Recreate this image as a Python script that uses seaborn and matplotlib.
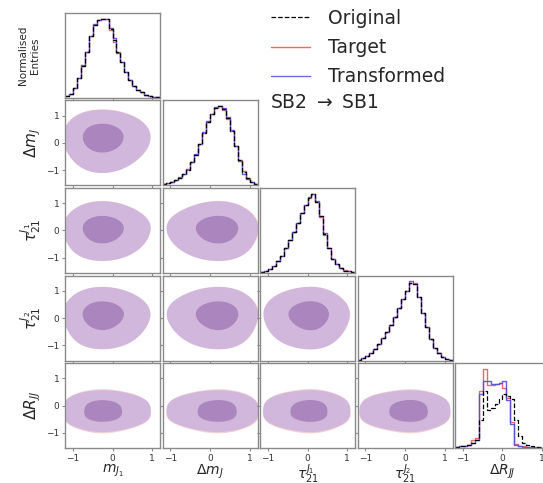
import numpy as np
import pandas as pd
import matplotlib
matplotlib.use("Agg")
import matplotlib.pyplot as plt
from matplotlib.colors import ListedColormap
from matplotlib.lines import Line2D
import seaborn as sns

# ==========================================
# Data (normalised bin heights)
# ==========================================
bin_lo, bin_hi, n_bins = -1.2, 1.2, 24

features = ["mj1", "dmj", "tau1", "tau2", "drjj"]
feature_labels = [r"$m_{J_1}$", r"$\Delta m_J$", r"$\tau_{21}^{J_1}$",
                  r"$\tau_{21}^{J_2}$", r"$\Delta R_{JJ}$"]
tick_values = [-1, 0, 1]

mj1_target = [0.02, 0.05, 0.12, 0.25, 0.40, 0.58, 0.78, 0.92, 0.98, 0.99, 1.00, 0.86,
              0.70, 0.58, 0.45, 0.33, 0.23, 0.15, 0.10, 0.07, 0.04, 0.02, 0.01, 0.01]
mj1_transformed = [0.02, 0.05, 0.12, 0.25, 0.41, 0.58, 0.78, 0.93, 0.98, 1.00, 0.99, 0.88,
                   0.75, 0.57, 0.45, 0.33, 0.23, 0.15, 0.10, 0.07, 0.04, 0.02, 0.01, 0.01]
mj1_original = [0.02, 0.05, 0.12, 0.25, 0.40, 0.58, 0.78, 0.92, 0.98, 0.99, 1.00, 0.87,
                0.73, 0.58, 0.45, 0.33, 0.23, 0.15, 0.10, 0.07, 0.04, 0.02, 0.01, 0.01]

dmj_target = [0.02, 0.03, 0.05, 0.07, 0.10, 0.15, 0.20, 0.29, 0.39, 0.52, 0.66, 0.80,
              0.90, 0.98, 1.00, 0.95, 0.84, 0.68, 0.50, 0.32, 0.18, 0.10, 0.04, 0.02]
dmj_transformed = [0.02, 0.03, 0.05, 0.07, 0.11, 0.15, 0.21, 0.29, 0.40, 0.52, 0.67, 0.81,
                   0.90, 0.99, 1.00, 0.97, 0.86, 0.70, 0.50, 0.31, 0.15, 0.08, 0.04, 0.02]
dmj_original = [0.02, 0.03, 0.05, 0.07, 0.10, 0.15, 0.20, 0.29, 0.39, 0.52, 0.66, 0.80,
                0.90, 0.98, 1.00, 0.96, 0.85, 0.69, 0.50, 0.32, 0.17, 0.09, 0.04, 0.02]

tau1_target = [0.01, 0.02, 0.05, 0.09, 0.15, 0.22, 0.31, 0.41, 0.52, 0.63, 0.75, 0.86,
               0.95, 0.99, 0.90, 0.71, 0.48, 0.31, 0.18, 0.11, 0.06, 0.04, 0.02, 0.01]
tau1_transformed = [0.01, 0.02, 0.05, 0.09, 0.15, 0.22, 0.31, 0.41, 0.52, 0.63, 0.75, 0.86,
                    0.96, 1.00, 0.91, 0.72, 0.50, 0.31, 0.18, 0.11, 0.06, 0.03, 0.02, 0.01]
tau1_original = [0.01, 0.02, 0.05, 0.09, 0.15, 0.22, 0.31, 0.41, 0.52, 0.63, 0.75, 0.86,
                 0.95, 1.00, 0.90, 0.72, 0.49, 0.31, 0.18, 0.11, 0.06, 0.03, 0.02, 0.01]

tau2_target = [0.01, 0.03, 0.06, 0.10, 0.15, 0.21, 0.28, 0.36, 0.45, 0.55, 0.66, 0.77,
               0.88, 0.97, 0.97, 0.80, 0.60, 0.42, 0.27, 0.16, 0.09, 0.05, 0.02, 0.01]
tau2_transformed = [0.01, 0.03, 0.06, 0.10, 0.15, 0.21, 0.28, 0.36, 0.45, 0.55, 0.66, 0.77,
                    0.88, 1.00, 0.96, 0.80, 0.60, 0.42, 0.27, 0.16, 0.09, 0.05, 0.02, 0.01]
tau2_original = [0.01, 0.03, 0.06, 0.10, 0.15, 0.21, 0.28, 0.36, 0.45, 0.55, 0.66, 0.77,
                 0.88, 0.98, 0.96, 0.80, 0.60, 0.42, 0.27, 0.16, 0.09, 0.05, 0.02, 0.01]

drjj_target = [0.01, 0.02, 0.03, 0.04, 0.10, 0.12, 0.72, 1.00, 0.79, 0.79, 0.80, 0.82,
               0.75, 0.63, 0.33, 0.05, 0.03, 0.02, 0.01, 0.01, 0.01, 0.00, 0.00, 0.00]
drjj_transformed = [0.01, 0.02, 0.02, 0.04, 0.06, 0.10, 0.68, 0.84, 0.84, 0.80, 0.80, 0.82,
                    0.84, 0.60, 0.30, 0.04, 0.02, 0.01, 0.01, 0.01, 0.00, 0.00, 0.00, 0.00]
drjj_original = [0.01, 0.02, 0.03, 0.04, 0.06, 0.10, 0.35, 0.72, 0.48, 0.50, 0.55, 0.62,
                 0.68, 0.66, 0.62, 0.35, 0.15, 0.06, 0.04, 0.02, 0.01, 0.01, 0.00, 0.00]

target = [mj1_target, dmj_target, tau1_target, tau2_target, drjj_target]
transformed = [mj1_transformed, dmj_transformed, tau1_transformed, tau2_transformed, drjj_transformed]
original = [mj1_original, dmj_original, tau1_original, tau2_original, drjj_original]

# ==========================================
# Style
# ==========================================
sns.set_style("ticks")
plt.rcParams["font.family"] = ["DejaVu Sans"]
plt.rcParams["mathtext.fontset"] = "dejavusans"

red = (0.92, 0.30, 0.32)
blue = (0.30, 0.30, 0.88)
red_fill = [(0.93, 0.45, 0.48, 0.32), (0.85, 0.30, 0.35, 0.45)]
blue_fill = [(0.50, 0.50, 0.93, 0.32), (0.35, 0.33, 0.80, 0.45)]
spine_col = "#8a8a8a"

edges = np.linspace(bin_lo, bin_hi, n_bins + 1)
centers = 0.5 * (edges[:-1] + edges[1:])
bin_list = [float(e) for e in edges]


def hist_frame(heights):
    return pd.DataFrame({"x": centers, "w": np.asarray(heights, dtype=float)})


def draw_contours(ax, hx, hy, fill_colors):
    # 2D density on the bin grid, built from the two marginals
    gx, gy = np.meshgrid(centers, centers)
    w = np.outer(hy, hx).ravel()
    keep = w > 0
    sns.kdeplot(x=gx.ravel()[keep], y=gy.ravel()[keep], weights=w[keep],
                fill=True, levels=[0.04, 0.5, 1.0], cmap=ListedColormap(fill_colors),
                bw_adjust=1.35, antialiased=True, ax=ax)


def style_axis(ax):
    for s in ax.spines.values():
        s.set_visible(True)
        s.set_color(spine_col)
        s.set_linewidth(1.0)
    ax.tick_params(length=2.5, width=0.8, color=spine_col, labelsize=6.5,
                   labelcolor="#333333", pad=1.5)


fig = plt.figure(figsize=(5.43, 4.83), dpi=100)
W, H = 543.0, 483.0
lefts = [65, 162.5, 260, 357.5, 455]
tops = [13, 100.5, 188, 275.5, 363]
aw, ah = 95, 85

n = len(features)
for i in range(n):
    for j in range(i + 1):
        ax = fig.add_axes([lefts[j] / W, 1 - (tops[i] + ah) / H, aw / W, ah / H])
        if i == j:
            sns.histplot(data=hist_frame(target[i]), x="x", weights="w", bins=bin_list,
                         element="step", fill=False, color=red, linewidth=1.0, alpha=0.85, ax=ax)
            sns.histplot(data=hist_frame(transformed[i]), x="x", weights="w", bins=bin_list,
                         element="step", fill=False, color=blue, linewidth=1.0, alpha=0.9, ax=ax)
            sns.histplot(data=hist_frame(original[i]), x="x", weights="w", bins=bin_list,
                         element="step", fill=False, color="black", linewidth=0.9,
                         linestyle="--", ax=ax)
            ax.set_yticks([])
            ax.set_ylim(0, 1.07)
        else:
            draw_contours(ax, target[j], target[i], red_fill)
            draw_contours(ax, transformed[j], transformed[i], blue_fill)
            ax.set_ylim(-1.55, 1.55)
            ax.set_yticks(tick_values)
            if j > 0:
                ax.set_yticklabels([])
        ax.set_xlim(bin_lo, bin_hi)
        ax.set_xticks(tick_values)
        if i < n - 1:
            ax.set_xticklabels([])
            ax.set_xlabel("")
        else:
            ax.set_xlabel(feature_labels[j], fontsize=10, labelpad=0)
        if j == 0:
            if i == 0:
                ax.set_ylabel("Normalised\nEntries", fontsize=7.5, labelpad=18)
            else:
                ax.set_ylabel(feature_labels[i], fontsize=11, labelpad=2)
        else:
            ax.set_ylabel("")
        style_axis(ax)

handles = [Line2D([], [], color="black", linestyle="--", linewidth=0.9),
           Line2D([], [], color=red, linewidth=1.0, alpha=0.85),
           Line2D([], [], color=blue, linewidth=1.0, alpha=0.85)]
fig.legend(handles, ["Original", "Target", "Transformed"], loc="upper left",
           bbox_to_anchor=(254 / W, 1 + 8 / H), frameon=False, fontsize=13.5,
           handlelength=2.1, labelspacing=0.55, handletextpad=0.95)
fig.text(270 / W, 1 - 102 / H, "SB2 $\\rightarrow$ SB1", fontsize=13.5, va="center", ha="left")

fig.savefig("out.png", dpi=100)
